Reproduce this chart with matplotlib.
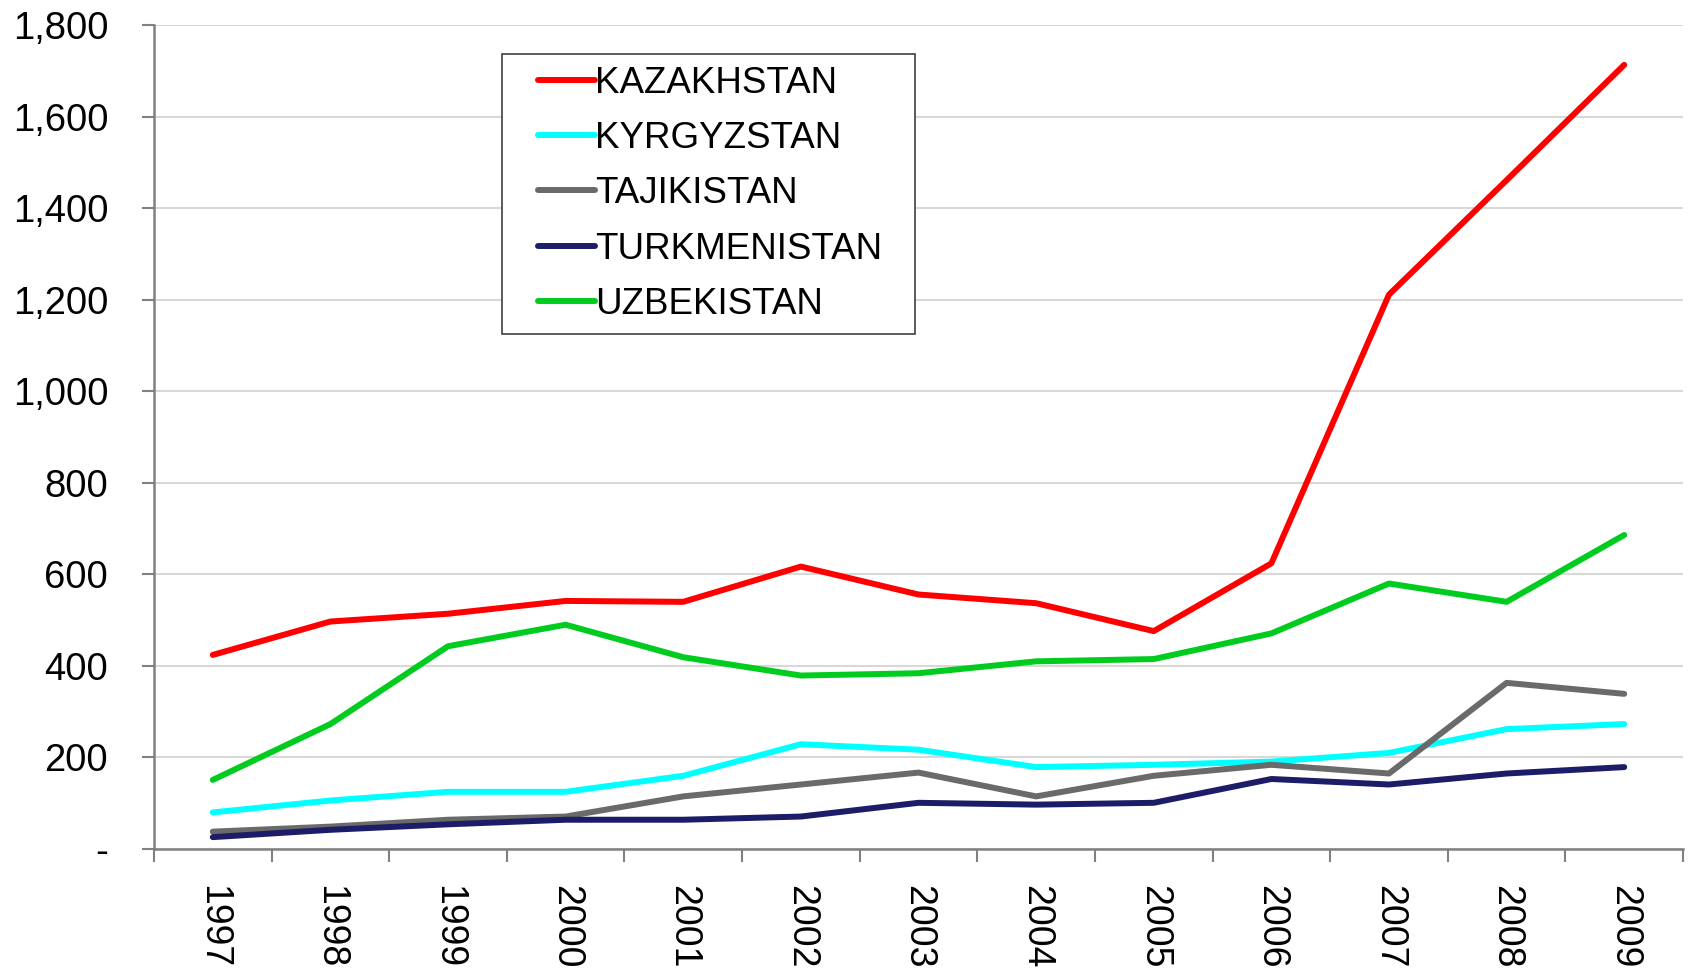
import numpy as np
import matplotlib
matplotlib.use('Agg')
import matplotlib.pyplot as plt
from matplotlib.ticker import FuncFormatter, FixedLocator
from matplotlib.legend_handler import HandlerLine2D

plt.rcParams['font.family'] = ['Liberation Sans', 'DejaVu Sans']

# data
years = ['1997', '1998', '1999', '2000', '2001', '2002', '2003',
         '2004', '2005', '2006', '2007', '2008', '2009']
kazakhstan = [424, 497, 514, 542, 540, 617, 556, 537, 476, 624, 1211, 1461, 1713]
kyrgyzstan = [80, 106, 125, 125, 160, 229, 217, 179, 184, 191, 210, 262, 273]
tajikistan = [38, 49, 64, 71, 115, 141, 167, 115, 160, 184, 165, 363, 339]
turkmenistan = [26, 42, 54, 64, 64, 71, 101, 97, 101, 153, 141, 165, 179]
uzbekistan = [151, 273, 443, 490, 419, 379, 384, 410, 415, 471, 580, 540, 686]

series = [('KAZAKHSTAN', kazakhstan, '#ff0000'),
          ('KYRGYZSTAN', kyrgyzstan, '#00ffff'),
          ('TAJIKISTAN', tajikistan, '#6a6a6a'),
          ('TURKMENISTAN', turkmenistan, '#1c1c68'),
          ('UZBEKISTAN', uzbekistan, '#00cc1f')]


class PaddedLine(HandlerLine2D):
    # legend line only on the right part of the handle box -> extra left padding
    def get_xdata(self, legend, xdescent, ydescent, width, height, fontsize):
        xd, xm = super().get_xdata(legend, xdescent, ydescent, width, height, fontsize)
        xd = np.array([-xdescent + width * 0.3, -xdescent + width])
        return xd, xm


fig = plt.figure(figsize=(16.92, 9.73), dpi=100)
ax = fig.add_axes([0.091, 0.1274, 0.9037, 0.8469])

x = np.arange(len(years))
for name, vals, col in series:
    ax.plot(x, vals, color=col, lw=4.3, label=name, solid_capstyle='round',
            solid_joinstyle='round')

ax.set_xlim(-0.5, len(years) - 0.5)
ax.set_ylim(0, 1800)

# y axis
ax.set_yticks(np.arange(0, 1801, 200))
ax.yaxis.set_major_formatter(FuncFormatter(lambda v, p: '-' if v == 0 else '{:,.0f}'.format(v)))
ax.grid(axis='y', color='#d8d8d8', lw=1.5)
ax.set_axisbelow(True)
ax.tick_params(axis='y', labelsize=27.5, length=9, width=1.5, color='#808080', pad=24)

# x axis: labels at categories, ticks at boundaries
ax.set_xticks(x)
ax.set_xticklabels(years, rotation=-90, fontsize=27)
ax.tick_params(axis='x', which='major', length=0, pad=26)
ax.xaxis.set_minor_locator(FixedLocator(np.arange(-0.5, len(years), 1.0)))
ax.tick_params(axis='x', which='minor', length=9, width=1.5, color='#808080')

for s in ['top', 'right']:
    ax.spines[s].set_visible(False)
for s in ['left', 'bottom']:
    ax.spines[s].set_color('#808080')
    ax.spines[s].set_linewidth(1.8)

leg = ax.legend(loc='upper left', bbox_to_anchor=(0.2276, 0.6, 0.27, 0.3648),
                mode='expand', borderaxespad=0,
                fontsize=26.5, handlelength=2.2, handletextpad=0.0,
                labelspacing=0.55, fancybox=False, framealpha=1,
                edgecolor='#404040', borderpad=0.32,
                handler_map={plt.Line2D: PaddedLine()})
leg.get_frame().set_linewidth(1.2)

fig.savefig('out.png', dpi=100)
